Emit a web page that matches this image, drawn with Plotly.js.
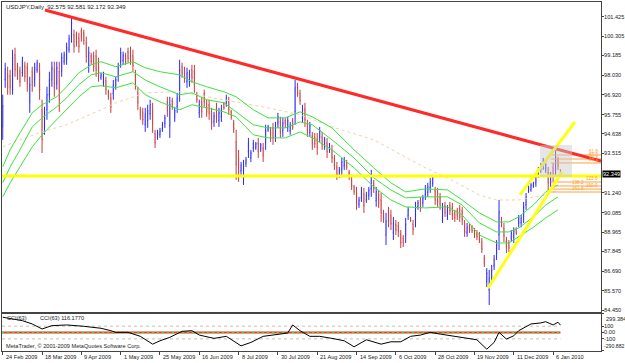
<!DOCTYPE html>
<html><head><meta charset="utf-8">
<script src="https://cdn.plot.ly/plotly-3.0.1.min.js"></script>
<style>html,body{margin:0;padding:0;background:#fff}#c{width:625px;height:363px}</style>
</head><body><div id="c"></div>
<script>
// ---- data ----
const tickLabels = ["24 Feb 2009","18 Mar 2009","9 Apr 2009","1 May 2009","25 May 2009","16 Jun 2009","8 Jul 2009","30 Jul 2009","21 Aug 2009","14 Sep 2009","6 Oct 2009","28 Oct 2009","19 Nov 2009","11 Dec 2009","6 Jan 2010"];
const tickIdx = [0,16,32,48,64,80,96,112,128,144,160,176,192,208,224];
const priceTicks = [101.425,100.305,99.185,98.030,96.920,95.755,94.638,93.515,91.240,90.085,88.965,87.845,86.690,85.570,84.450];
const cciTicks = [299.384,100,0,-100,-290.882];
const cciTickText = ["","100","0.00","-100",""];
const cciMax = 299.384, cciMin = -290.882;

const barHigh = [
96.91,98.76,98.53,98.35,99.51,99.63,98.76,98.53,99.11,98.82,98.76,97.95,98.53,98.76,98.93,98.76,96.62,96.21,97.37,98.24,
98.82,98.82,98.82,98.82,99.34,99.40,99.92,100.38,101.43,100.67,100.56,100.50,100.79,100.67,100.27,99.69,99.34,99.40,99.51,99.05,
98.18,98.24,97.95,97.20,97.02,97.77,97.95,98.76,99.63,99.40,99.34,99.63,99.69,99.51,98.35,97.37,96.21,96.15,96.15,
96.33,96.62,96.44,94.88,94.88,94.99,95.34,95.75,96.79,96.79,96.73,96.21,97.02,98.93,98.76,98.53,98.47,98.35,98.64,98.64,
97.08,96.62,96.79,97.20,96.62,96.62,96.15,95.92,96.44,96.15,96.33,96.50,96.91,96.79,96.04,95.46,94.88,93.72,93.02,93.14,
93.31,94.41,93.72,94.30,94.18,94.41,94.12,94.12,95.17,95.17,95.05,95.28,95.34,95.86,95.63,95.57,
95.57,95.63,95.34,95.57,97.77,97.60,97.20,96.33,96.44,95.46,95.34,94.76,94.70,94.70,95.05,94.76,94.47,94.41,94.12,94.01,
93.43,93.02,92.73,93.25,93.31,93.14,92.56,92.27,91.69,91.58,91.00,91.58,91.52,91.29,91.58,92.56,91.98,91.58,91.40,91.23,
90.25,90.07,90.42,90.25,89.84,89.66,89.55,89.08,88.79,89.78,90.42,89.84,89.66,90.71,90.82,91.00,91.11,91.69,
91.81,92.10,92.27,91.58,91.52,91.23,90.65,90.71,90.53,90.71,90.65,90.25,90.36,90.53,90.42,89.66,89.49,89.49,89.37,89.20,
89.08,88.97,88.62,87.64,86.88,86.77,87.06,87.64,88.50,90.82,89.84,89.49,88.68,88.50,89.08,89.24,89.24,89.95,89.95,90.71,
91.23,91.69,91.81,91.87,92.39,92.73,92.96,93.25,93.02,92.73,92.44,92.96,93.72,93.31,92.581];
const barLow = [
94.30,97.31,96.91,96.91,96.91,97.95,97.77,97.37,97.95,97.66,97.08,95.86,97.08,97.37,98.18,96.62,93.54,94.59,95.46,96.44,
97.37,96.79,97.20,95.92,97.95,98.64,98.64,99.34,99.92,99.34,99.69,99.34,99.98,99.80,98.76,98.18,98.64,98.24,97.95,97.66,
97.77,97.37,96.91,96.62,95.86,96.62,97.20,97.66,98.47,98.64,98.64,98.76,98.64,98.24,97.20,96.04,95.46,95.17,94.76,
94.99,95.46,94.70,93.83,94.30,94.41,94.76,94.99,95.63,94.41,96.04,95.34,95.86,96.50,97.89,97.60,97.31,97.37,97.60,97.02,
96.44,95.57,95.57,96.21,95.63,95.46,94.88,95.05,95.28,95.05,95.34,96.04,96.21,95.75,95.46,94.70,91.98,91.87,92.27,91.69,
92.73,93.25,93.02,93.60,93.72,93.25,93.60,93.02,93.72,94.76,94.18,94.01,94.18,94.99,94.41,94.47,
94.99,94.76,94.59,94.88,95.17,96.79,96.33,95.28,95.05,94.47,94.47,93.72,93.83,93.43,94.18,93.72,93.72,93.25,93.54,92.96,
92.56,91.98,92.10,92.27,92.56,92.56,91.98,91.40,91.11,90.25,90.36,90.71,90.07,90.65,90.82,91.00,91.23,90.42,90.36,89.55,
89.49,88.21,89.24,89.08,88.50,88.79,88.68,88.04,88.10,88.33,89.66,89.55,88.79,89.24,90.25,90.13,90.42,90.82,
91.00,91.23,91.58,90.53,90.42,90.25,89.49,89.84,89.66,89.95,89.66,89.55,89.66,89.55,89.37,88.68,88.68,88.91,88.91,88.62,
88.50,88.33,87.75,86.94,85.78,84.74,86.01,86.77,87.35,87.92,89.24,88.39,87.75,87.81,88.39,88.33,88.79,89.24,89.24,89.49,
90.25,91.23,91.29,91.52,91.58,92.10,92.39,92.56,92.39,91.40,91.58,91.87,92.16,92.56,92.172];
const barOpen = [
95.05,97.77,98.12,98.01,97.20,99.22,98.53,98.30,98.18,98.59,98.47,96.44,98.24,97.77,98.35,98.35,96.04,94.99,96.04,96.91,
97.77,98.35,97.54,98.24,98.24,98.82,98.93,99.51,100.27,100.38,100.38,100.21,100.61,100.50,99.92,98.59,99.16,99.11,99.16,98.70,
97.89,97.60,97.72,97.08,96.73,96.97,97.43,97.95,98.82,98.88,99.16,99.40,99.40,99.16,98.06,97.02,96.04,95.92,95.17,
95.40,95.81,96.04,94.65,94.47,94.59,94.93,95.23,96.50,95.11,96.56,95.57,96.21,97.20,98.53,98.30,97.66,97.66,98.35,98.24,
96.91,95.86,96.50,96.97,96.39,96.33,95.81,95.34,96.15,95.40,95.63,96.39,96.44,96.50,95.92,95.28,94.18,93.25,92.50,92.10,
92.91,93.60,93.25,93.83,93.83,94.12,93.72,93.83,94.12,94.88,94.82,94.99,94.53,95.23,95.34,94.82,
95.40,94.99,94.82,95.40,95.92,97.43,96.97,95.57,96.09,95.23,94.70,94.53,94.47,94.36,94.41,94.47,93.95,94.12,93.72,93.72,
93.20,92.73,92.27,92.56,92.79,93.02,92.44,92.04,91.58,91.23,90.53,90.94,91.17,90.82,91.06,91.46,91.81,90.77,91.17,90.82,
90.07,88.79,90.13,89.95,88.91,89.43,89.32,88.85,88.62,88.73,89.89,89.78,89.43,89.66,90.42,90.77,90.65,91.11,
91.23,91.52,91.75,91.35,91.23,91.00,89.84,90.48,89.89,90.53,90.42,90.07,90.19,90.30,90.19,89.43,88.91,89.32,89.26,89.08,
88.91,88.79,88.39,87.46,86.07,85.61,86.30,87.00,87.69,88.79,89.72,89.20,88.44,88.33,88.56,88.62,89.14,89.43,89.49,89.84,
90.53,91.35,91.40,91.64,91.81,92.27,92.56,92.79,92.56,92.39,91.81,92.68,92.56,93.14,92.575];
const barClose = [
96.27,98.41,97.37,97.31,99.05,98.35,98.01,97.66,98.88,97.95,97.54,97.49,97.43,98.47,98.76,97.20,94.30,95.86,96.91,97.77,
98.47,97.31,98.47,96.62,99.05,99.22,99.63,100.15,101.08,99.69,99.92,99.69,100.21,100.03,99.11,99.34,98.82,98.53,98.35,98.01,
98.06,98.01,97.20,96.79,96.21,97.49,97.77,98.53,99.34,99.22,98.82,98.99,98.93,98.59,97.54,96.44,95.69,95.46,95.80,
95.98,96.33,95.23,94.12,94.70,94.82,95.17,95.57,95.98,96.33,96.21,95.98,96.73,98.35,98.12,97.89,98.18,98.12,97.89,97.49,
96.62,96.33,95.92,96.50,95.92,95.81,95.28,95.69,95.63,95.86,96.04,96.15,96.73,96.04,95.63,94.93,92.85,92.44,92.85,92.79,
93.14,94.12,93.54,94.12,94.07,93.60,94.01,93.37,94.82,95.05,94.41,94.41,95.05,95.63,94.76,95.28,
95.17,95.40,95.17,95.05,97.31,97.02,96.56,96.04,95.46,94.76,95.11,94.01,94.07,93.83,94.82,94.01,94.30,93.60,93.95,93.25,
92.79,92.27,92.56,93.02,93.14,92.73,92.16,91.64,91.29,90.65,90.82,91.35,90.48,91.11,91.40,92.21,91.46,91.29,90.65,90.07,
89.72,89.61,89.61,89.43,89.49,89.08,88.97,88.33,88.33,89.43,90.25,89.61,89.08,90.36,90.65,90.42,90.94,91.46,
91.58,91.87,92.10,90.82,90.71,90.53,90.36,90.07,90.30,90.19,89.95,89.78,89.89,89.84,89.66,88.97,89.26,89.08,89.03,88.79,
88.68,88.50,87.98,87.11,86.59,86.30,86.77,87.40,88.21,90.13,89.43,88.73,88.04,88.04,88.91,89.03,88.91,89.78,89.78,90.42,
91.00,91.58,91.69,91.81,92.21,92.56,92.79,93.08,92.85,91.81,92.21,92.21,93.31,92.79,92.349];

const maIdx = [0,3,7,12,16,22,26,31,36,40,46,53,58,64,72,77,83,90,95,102,108,115,121,126,134,143,151,158,164,172,181,187,194,201,206,210,216,221,226];
const maUpper = [92.73,93.72,94.70,95.86,96.33,96.79,97.37,98.18,98.64,98.82,98.53,98.82,98.47,98.24,98.06,97.66,97.37,97.08,96.79,96.04,95.57,95.57,95.92,95.63,94.99,93.72,92.68,91.81,91.29,91.46,91.40,90.82,90.07,89.55,89.55,89.84,90.53,91.29,91.69];
const maMiddle = [91.81,92.73,93.72,95.05,95.57,96.21,96.73,97.49,98.06,98.18,97.95,98.24,97.76,97.37,96.91,97.02,96.62,96.44,95.92,95.17,94.99,94.99,95.34,95.17,94.30,93.25,92.10,91.40,90.94,91.00,91.00,90.53,89.49,88.97,88.97,89.20,89.84,90.53,91.00];
const maLower = [91.00,91.81,92.73,93.89,94.59,95.46,96.04,96.79,97.37,97.43,97.31,97.60,96.91,96.50,96.04,96.33,96.15,95.92,95.63,94.59,94.41,94.41,94.76,94.41,93.72,92.68,91.58,90.82,90.42,90.36,90.42,89.95,88.79,88.33,88.33,88.68,89.24,89.78,90.25];
const slowIdx = [0,7,16,26,40,46,58,72,90,108,121,134,151,164,172,181,194,201,210,221,226];
const slowMA = [93.89,94.30,94.76,95.17,96.04,96.44,97.02,97.08,96.62,96.15,95.75,95.05,94.30,93.31,92.68,92.10,91.11,90.82,90.82,91.11,91.40];

const cciIdx = [0,4,8,12,16,20,26,33,40,44,46,51,56,61,64,68,73,77,80,86,91,97,101,106,112,116,118,121,125,129,134,139,143,148,154,158,162,166,170,174,178,183,189,193,197,200,202,205,208,210,215,219,221,224,226,227];
const cciVal = [241,214,187,135,56,108,119,98,67,29,3,3,-60,-183,-130,-76,19,29,-40,-92,-60,-210,-156,-60,-24,-8,119,29,-60,-60,-92,-130,-225,-114,-183,-146,-146,-60,-40,3,-24,-51,-92,-114,-262,-156,3,-103,-51,29,135,151,171,119,162,116.18];
const cciLevels = [100,-100];

const redTrendX = [17.2,243.5], redTrendY = [101.81,93.07];
const chanUpX = [210.5,232.9], chanUpY = [91.11,95.33];
const chanLowX = [197.5,227.6], chanLowY = [85.72,92.44];
const hLevel = 92.20;
const fibLevels = [93.42,93.19,92.96,91.86,91.63,91.45,91.28];
const fibLabels = ["61.8","50.0","38.2","123.6","138.2","150.0","161.8"];
const fibFrom = 223;
const lastPrice = 92.349;
const xEnd = 243.5;

// ---- build ----
const barIdx = barClose.map((_, i) => i);
const traces = [];
traces.push({type:'candlestick', x:barIdx, open:barOpen, high:barHigh, low:barLow, close:barClose,
  xaxis:'x', yaxis:'y', whiskerwidth:0,
  increasing:{line:{color:'rgba(0,0,0,0)', width:0}, fillcolor:'rgba(140,140,245,0.6)'},
  decreasing:{line:{color:'rgba(0,0,0,0)', width:0}, fillcolor:'rgba(230,160,160,0.7)'},
  hoverinfo:'skip'});
traces.push({type:'ohlc', x:barIdx, open:barOpen, high:barHigh, low:barLow, close:barClose,
  xaxis:'x', yaxis:'y', tickwidth:0.25,
  increasing:{line:{color:'#2a2aff', width:1}}, decreasing:{line:{color:'#c83c3c', width:1}}, hoverinfo:'skip'});
const ln = (x, y, color, width, dash) => ({type:'scatter', mode:'lines', x:x, y:y, xaxis:'x', yaxis:'y',
  line:{color:color, width:width, dash:dash||'solid'}, hoverinfo:'skip'});
traces.push(ln(slowIdx, slowMA, '#f0d2b0', 1, 'dot'));
traces.push(ln(maIdx, maUpper, '#3ee23e', 1));
traces.push(ln(maIdx, maMiddle, '#3ee23e', 1));
traces.push(ln(maIdx, maLower, '#3ee23e', 1));
traces.push(ln([-0.3, xEnd], [hLevel, hLevel], '#ffff00', 3));
fibLevels.forEach(v => traces.push(ln([fibFrom, xEnd], [v, v], '#ffa040', 1)));
traces.push(ln(redTrendX, redTrendY, '#ff2a2a', 3.2));
traces.push(ln(chanUpX, chanUpY, '#ffff10', 3));
traces.push(ln(chanLowX, chanLowY, '#ffff10', 3));

// CCI pane
traces.push({type:'scatter', mode:'lines', x:[-0.3, 227], y:[0,0], xaxis:'x2', yaxis:'y2', line:{color:'#ff3030', width:2}, hoverinfo:'skip'});
traces.push({type:'scatter', mode:'lines', x:[-0.3, 227], y:[0,0], xaxis:'x2', yaxis:'y2', line:{color:'#40e040', width:2, dash:'2px,3px'}, hoverinfo:'skip'});
cciLevels.forEach(v => traces.push({type:'scatter', mode:'lines', x:[-0.3, 227], y:[v,v], xaxis:'x2', yaxis:'y2', line:{color:'#c8c0b0', width:1, dash:'dot'}, hoverinfo:'skip'}));
traces.push({type:'scatter', mode:'lines', x:cciIdx, y:cciVal, xaxis:'x2', yaxis:'y2', line:{color:'#000', width:1}, hoverinfo:'skip'});

const F = 'Liberation Sans, Arial, sans-serif';
const FS = 5.6;
const annotations = [];
tickLabels.forEach((t, k) => annotations.push({text:t, x:tickIdx[k], xref:'x2', y:0, yref:'paper', xanchor:'left', yanchor:'top', xshift:1, yshift:-1, showarrow:false, font:{family:F, size:FS, color:'#222'}}));
annotations.push({text:'USDJPY,Daily  92.575 92.581 92.172 92.349', x:0, xref:'paper', y:1, yref:'paper', xanchor:'left', yanchor:'top', xshift:2, yshift:0, showarrow:false, font:{family:F, size:6, color:'#222'}});
annotations.push({text:'CCI(63)', x:0, xref:'paper', y:0.095, yref:'paper', xanchor:'left', yanchor:'middle', xshift:3, showarrow:false, font:{family:F, size:FS, color:'#222'}});
annotations.push({text:'CCI(63) 116.1770', x:0.06, xref:'paper', y:0.095, yref:'paper', xanchor:'left', yanchor:'middle', showarrow:false, font:{family:F, size:FS, color:'#222'}});
annotations.push({text:'MetaTrader, © 2001-2009 MetaQuotes Software Corp.', x:0, xref:'paper', y:0.013, yref:'paper', xanchor:'left', yanchor:'middle', xshift:2, showarrow:false, font:{family:F, size:FS, color:'#222'}});
annotations.push({text:'92.349', x:1, xref:'paper', y:lastPrice, yref:'y', xanchor:'left', yanchor:'middle', xshift:1, showarrow:false, bgcolor:'#000', borderpad:0, font:{family:F, size:FS, color:'#fff'}});
annotations.push({text:'299.384', x:1, xref:'paper', y:cciMax, yref:'y2', xanchor:'left', yanchor:'top', xshift:3, yshift:0, showarrow:false, font:{family:F, size:FS, color:'#222'}});
annotations.push({text:'-290.882', x:1, xref:'paper', y:cciMin, yref:'y2', xanchor:'left', yanchor:'bottom', xshift:1, yshift:0, showarrow:false, font:{family:F, size:5.2, color:'#222'}});
fibLevels.forEach((v, k) => annotations.push({text:fibLabels[k], x:1, xref:'paper', y:v, yref:'y', xanchor:'right', yanchor:'bottom', xshift:(k===4||k===6)?-15:-1, yshift:-1, showarrow:false, font:{family:F, size:4.6, color:'#ff9a30'}}));

const axX = {showgrid:false, zeroline:false, showline:true, mirror:true, linecolor:'#444', linewidth:1, range:[-0.3, xEnd], rangeslider:{visible:false}, fixedrange:true};
const axY = {side:'right', ticks:'outside', ticklen:2, tickcolor:'#444', showgrid:false, zeroline:false, showline:true, mirror:true, linecolor:'#444', ticklabelstandoff:-1, tickfont:{family:F, size:FS, color:'#222'}};
const layout = {
  width:625, height:363, margin:{l:2, r:24, t:2, b:12},
  paper_bgcolor:'#fff', plot_bgcolor:'#fff', showlegend:false,
  font:{family:F, size:FS, color:'#222'},
  xaxis: Object.assign({}, axX, {anchor:'y', showticklabels:false, ticks:''}),
  xaxis2: Object.assign({}, axX, {anchor:'y2', matches:'x', showticklabels:false, ticks:'outside', ticklen:3, tickcolor:'#444', tickvals:tickIdx}),
  yaxis: Object.assign({}, axY, {domain:[0.1117,1], anchor:'x', range:[84.336,102.275], tickvals:priceTicks, tickformat:'.3f'}),
  yaxis2: Object.assign({}, axY, {domain:[0,0.1074], anchor:'x2', range:[cciMin,cciMax], tickvals:cciTicks, ticktext:cciTickText}),
  annotations: annotations,
  shapes: [{type:'rect', xref:'x', yref:'y', x0:218.7, x1:231.7, y0:92.15, y1:94.0, fillcolor:'rgba(200,200,200,0.45)', line:{width:0}, layer:'above'}]
};
Plotly.newPlot('c', traces, layout, {staticPlot:true, displayModeBar:false});
</script></body></html>
